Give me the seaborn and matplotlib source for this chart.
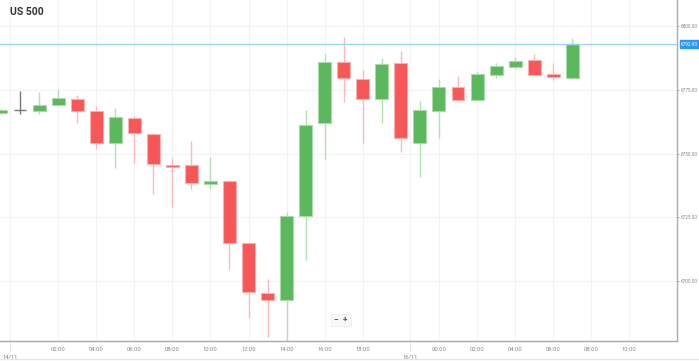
import numpy as np
import pandas as pd
import matplotlib
matplotlib.use('Agg')
import matplotlib.pyplot as plt
import matplotlib.transforms as mtransforms
import seaborn as sns

# Bougies horaires US 500
opens = [6766.0, 6767.2, 6766.8, 6769.0, 6771.3, 6766.8, 6754.0, 6763.8, 6757.8, 6745.6,
         6745.4, 6738.2, 6739.1, 6715.0, 6695.4, 6692.5, 6725.5, 6761.8, 6785.9, 6779.3,
         6771.4, 6785.4, 6754.2, 6766.5, 6776.2, 6771.0, 6780.8, 6784.0, 6786.7, 6781.2,
         6779.5]
highs = [6767.5, 6774.6, 6774.2, 6775.2, 6772.9, 6768.6, 6768.0, 6764.7, 6758.2, 6748.1,
         6755.0, 6748.7, 6739.2, 6715.0, 6700.7, 6726.9, 6767.1, 6788.9, 6795.8, 6782.7,
         6787.6, 6790.2, 6770.6, 6779.1, 6780.4, 6782.4, 6785.4, 6788.0, 6788.9, 6785.6,
         6795.4]
lows = [6765.5, 6765.4, 6765.5, 6769.0, 6762.1, 6751.8, 6744.2, 6746.4, 6734.0, 6728.9,
        6736.1, 6736.1, 6704.7, 6685.4, 6678.2, 6676.0, 6708.2, 6747.8, 6770.3, 6754.0,
        6761.8, 6750.5, 6740.9, 6756.2, 6770.6, 6770.6, 6779.7, 6783.0, 6780.8, 6778.8,
        6779.5]
closes = [6767.0, 6767.2, 6769.0, 6771.6, 6766.7, 6754.0, 6764.2, 6757.9, 6745.8, 6744.7,
          6738.3, 6739.3, 6715.0, 6695.7, 6692.5, 6725.6, 6761.2, 6786.0, 6779.5, 6771.5,
          6785.2, 6756.0, 6766.9, 6776.2, 6770.9, 6781.1, 6784.3, 6786.3, 6780.8, 6780.0,
          6792.9]

last_price = 6792.93
time_ticks = [3, 5, 7, 9, 11, 13, 15, 17, 19, 23, 25, 27, 29, 31, 33]
time_labels = ['02:00', '04:00', '06:00', '08:00', '10:00', '12:00', '14:00', '16:00',
               '18:00', '00:00', '02:00', '04:00', '06:00', '08:00', '10:00']
date_ticks = [0.5, 21.5]
date_labels = ['14/11', '16/11']
price_ticks = [6700, 6725, 6750, 6775, 6800]

df = pd.DataFrame({'open': opens, 'high': highs, 'low': lows, 'close': closes})
df['x'] = np.arange(len(df))

sns.set_style('white')
plt.rcParams['font.family'] = ['Roboto', 'DejaVu Sans']

GREEN = '#5cb85c'
RED = '#f75757'
GREY = '#777777'

fig = plt.figure(figsize=(6.99, 3.61), dpi=100)
ax = fig.add_axes([0.0, 20 / 361, 677 / 699, 341 / 361])
ax.set_xlim(-0.05, 35.5)
ax.set_ylim(6676.5, 6810.2)

# Grille
for t in time_ticks + date_ticks:
    ax.axvline(t, color='#f2f2f2', lw=0.8, zorder=0)
for p in price_ticks:
    ax.axhline(p, color='#f2f2f2', lw=0.8, zorder=0)

# Bougies
for _, r in df.iterrows():
    if r['close'] > r['open']:
        c, wc, ec = GREEN, '#b4e0b4', '#a9dba9'
    elif r['close'] < r['open']:
        c, wc, ec = RED, '#fbb9b9', '#fbb0b0'
    else:
        c, wc, ec = GREY, GREY, GREY
    ax.vlines(r['x'], r['low'], r['high'], color=wc, lw=1.0, zorder=2)
    lo = min(r['open'], r['close'])
    h = abs(r['close'] - r['open'])
    if h == 0:
        ax.hlines(r['open'], r['x'] - 0.34, r['x'] + 0.34, color=c, lw=1.0, zorder=3)
    else:
        ax.bar(r['x'], h, bottom=lo, width=0.68, color=c, edgecolor=ec, lw=0.8, zorder=3)

# Ligne du dernier prix
ax.axhline(last_price, color='#9fd3f0', lw=1.0, zorder=4)
ax.annotate(f'{last_price:.2f}', xy=(1.0, last_price), xycoords=('axes fraction', 'data'),
            xytext=(3, 0), textcoords='offset points', va='center', ha='left',
            fontsize=3.4, color='white', annotation_clip=False,
            bbox=dict(boxstyle='square,pad=0.3', fc='#2a9af0', ec='#2a9af0'))

# Axes
ax.yaxis.tick_right()
ax.set_yticks(price_ticks)
ax.set_yticklabels([f'{p:.2f}' for p in price_ticks], fontsize=3.4, color='#888888')
ax.set_xticks(time_ticks)
ax.set_xticklabels(time_labels, fontsize=4.2, color='#888888')
ax.tick_params(axis='x', length=2, width=0.5, color='#999999', pad=2)
ax.tick_params(axis='y', length=1.5, width=0.5, color='#999999', pad=1)
for side in ['top', 'left']:
    ax.spines[side].set_visible(False)
for side in ['bottom', 'right']:
    ax.spines[side].set_color('#aaaaaa')
    ax.spines[side].set_linewidth(1.0)

trans = mtransforms.blended_transform_factory(ax.transData, ax.transAxes)
for t, lab in zip(date_ticks, date_labels):
    ax.plot([t, t], [0, -0.03], transform=trans, color='#aaaaaa', lw=0.6, ls=':', clip_on=False)
    ax.text(t, -0.04, lab, transform=trans, fontsize=4.2, color='#888888', ha='center', va='top')

# Titre
ax.text(10 / 677, 1 - 12 / 341, 'US 500', transform=ax.transAxes, fontsize=7.5,
        fontweight='bold', color='#333333', va='center', ha='left')

# Boutons de zoom
ax.text(341 / 677, 1 - 320 / 341, '\u2212  +', transform=ax.transAxes, fontsize=6,
        fontweight='bold', color='#555555', ha='center', va='center',
        bbox=dict(boxstyle='square,pad=0.35', fc='#f8f8f8', ec='#eeeeee', lw=0.6))

# Bordure basse
fig.add_artist(plt.Line2D([0, 1], [2 / 361, 2 / 361], color='#e6e6e6', lw=1.0))

fig.savefig('out.png', dpi=100)
